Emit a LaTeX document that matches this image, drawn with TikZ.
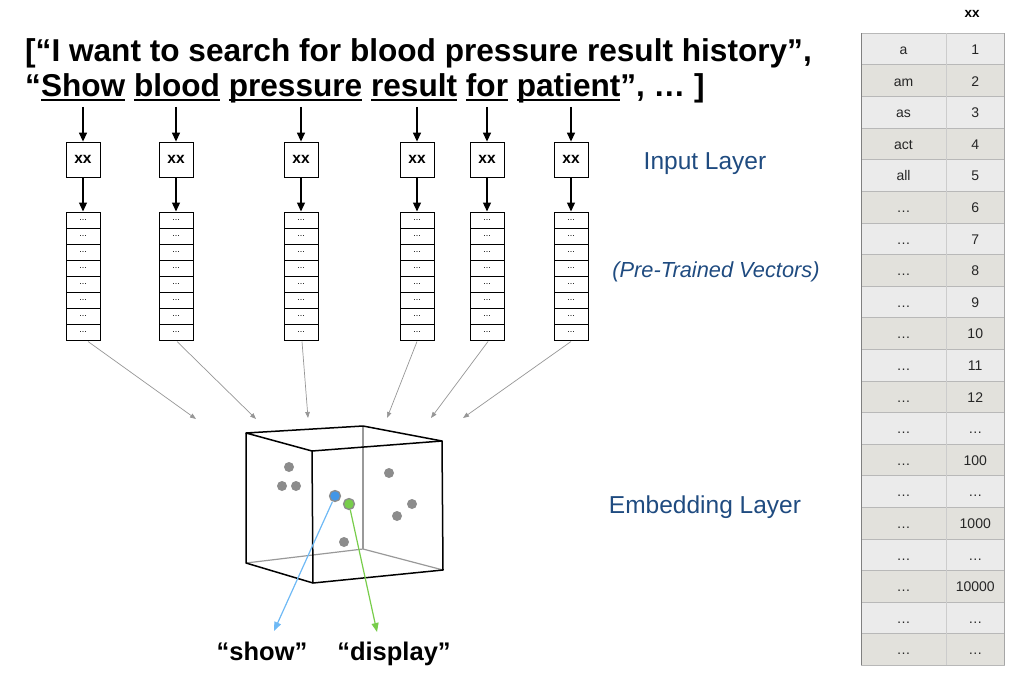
\documentclass[tikz,border=0pt]{standalone}
\usepackage{fontspec}
\setmainfont{Liberation Sans}
\usetikzlibrary{arrows.meta,calc}
\definecolor{labelblue}{RGB}{31,75,128}
\definecolor{rowa}{RGB}{235,235,235}
\definecolor{rowb}{RGB}{226,225,220}
\definecolor{feedgray}{RGB}{150,150,150}
\definecolor{dotgray}{RGB}{140,140,140}
\definecolor{showblue}{RGB}{110,185,245}
\definecolor{dotblue}{RGB}{66,150,230}
\definecolor{dispgreen}{RGB}{120,205,75}
\newcommand\ulword[1]{\setbox0=\hbox{#1}\rlap{\rule[-4.5pt]{\wd0}{2pt}}\box0}
\begin{document}
\begin{tikzpicture}[x=1pt,y=-1pt,
  wordarrow/.style={line width=1.3pt,-{Triangle[length=9pt,width=8pt]}},
  xxbox/.style={draw,line width=0.8pt,minimum width=34pt,minimum height=35pt,inner sep=0pt,font=\bfseries\fontsize{15.5}{18}\selectfont},
  cell/.style={draw,line width=1pt,minimum width=34pt,minimum height=16pt,inner sep=0pt,font=\fontsize{9}{9}\selectfont},
  feed/.style={draw=feedgray,line width=0.7pt,-{Triangle[length=6pt,width=4.5pt]}},
  cubeedge/.style={line width=1.5pt,black,line join=round},
  hiddenedge/.style={line width=1.2pt,black!40},
  pt/.style={circle,fill=dotgray,minimum size=10pt,inner sep=0pt},
  layerlabel/.style={text=labelblue,font=\fontsize{24.5}{28}\selectfont,anchor=base},
  tcell/.style={anchor=base,inner sep=0pt,font=\fontsize{14}{16}\selectfont},
  tline/.style={black!28,line width=0.8pt},
]
\useasboundingbox (0,0) rectangle (1024,698);

% title
\node[anchor=base west,inner sep=0pt,font=\bfseries\fontsize{31.6}{36}\selectfont] (t1) at (25,62)
  {[“I want to search for blood pressure result history”,};
\node[anchor=base west,inner sep=0pt,font=\bfseries\fontsize{31.6}{36}\selectfont] (t2) at (25,97)
  {“\ulword{Show}\ \ulword{blood}\ \ulword{pressure}\ \ulword{result}\ \ulword{for}\ \ulword{patient}”, … ]};

% columns
\foreach \cx [count=\i] in {83,176,301,417,487,571} {
  \coordinate (w\i) at (\cx,107);
  \node[xxbox] (x\i) at (\cx,159.5) {xx};
  \foreach \j in {1,...,8} {
    \node[cell] (s\i-\j) at (\cx,{220+16*(\j-1)}) {...};
  }
  \draw[wordarrow] (w\i) -- (x\i.north);
  \draw[wordarrow] (x\i.south) -- (s\i-1.north);
}

% feed arrows into embedding cube
\coordinate (f1) at (196,419);
\coordinate (f2) at (256,419);
\coordinate (f3) at (308,418);
\coordinate (f4) at (387,418);
\coordinate (f5) at (431,418);
\coordinate (f6) at (463,418);
\draw[feed] ($(s1-8.south)+(5,1)$) -- (f1);
\draw[feed] ($(s2-8.south)+(1,1)$) -- (f2);
\draw[feed] ($(s3-8.south)+(1,1)$) -- (f3);
\draw[feed] ($(s4-8.south)+(0,1)$) -- (f4);
\draw[feed] ($(s5-8.south)+(1,1)$) -- (f5);
\draw[feed] ($(s6-8.south)+(0,1)$) -- (f6);

% cube
\coordinate (A) at (246,433);
\coordinate (B) at (363,426);
\coordinate (C) at (363,549);
\coordinate (D) at (246,563);
\coordinate (E) at (312,451);
\coordinate (F) at (442,441);
\coordinate (G) at (443,570);
\coordinate (H) at (313,583);
\draw[hiddenedge] (B) -- (C);
\draw[hiddenedge] (D) -- (C) -- (G);
\draw[cubeedge] (E) -- (A) -- (B) -- (F);
\draw[cubeedge] (A) -- (D) -- (H);
\draw[cubeedge] (E) -- (F) -- (G) -- (H) -- cycle;

% points
\node[pt] (p1) at (289,467) {};
\node[pt] (p2) at (282,486) {};
\node[pt] (p3) at (296,486) {};
\node[pt] (p4) at (389,473) {};
\node[pt] (p5) at (412,504) {};
\node[pt] (p6) at (397,516) {};
\node[pt] (p7) at (344,542) {};
\node[circle,fill=dotblue,draw=dotgray,line width=1.3pt,minimum size=11pt,inner sep=0pt] (pshow) at (335,496) {};
\node[circle,fill=dispgreen,draw=dotgray,line width=1.3pt,minimum size=11pt,inner sep=0pt] (pdisp) at (349,504) {};

\coordinate (eshow) at (274,631);
\coordinate (edisp) at (377,632);
\draw[showblue,line width=1.2pt,-{Triangle[length=9pt,width=7pt]}] (pshow) -- (eshow);
\draw[dispgreen,line width=1.2pt,-{Triangle[length=9pt,width=7pt]}] (pdisp) -- (edisp);

\node[anchor=base,inner sep=0pt,font=\bfseries\fontsize{25.5}{30}\selectfont] (lshow) at (262,660) {“show”};
\node[anchor=base,inner sep=0pt,font=\bfseries\fontsize{25.5}{30}\selectfont] (ldisp) at (394,660) {“display”};

% layer labels
\node[layerlabel] (linput) at (705,169) {Input Layer};
\node[layerlabel,font=\itshape\fontsize{21.8}{25}\selectfont] (lpre) at (716,277) {(Pre-Trained Vectors)};
\node[layerlabel] (lemb) at (705,513) {Embedding Layer};

% vocabulary table
\node[font=\bfseries\fontsize{13.5}{16}\selectfont] (thead) at (972,14) {xx};
\foreach \w/\n [count=\r] in {a/1,am/2,as/3,act/4,all/5,…/6,…/7,…/8,…/9,…/10,…/11,…/12,…/…,…/100,…/…,…/1000,…/…,…/10000,…/…,…/…} {
  \pgfmathtruncatemacro{\odd}{mod(\r,2)}
  \ifnum\odd=1 \def\rc{rowa}\else\def\rc{rowb}\fi
  \fill[\rc] (861,{33.3+31.6*(\r-1)}) rectangle (1004.5,{33.3+31.6*\r});
  \node[tcell,text=black!85] (tw\r) at (903.5,{54.5+31.6*(\r-1)}) {\w};
  \node[tcell,text=black!85] (tn\r) at (975.25,{54.5+31.6*(\r-1)}) {\n};
}
\foreach \r in {0,...,20} {
  \draw[tline] (861,{33.3+31.6*\r}) -- (1004.5,{33.3+31.6*\r});
}
\draw[black!20,line width=0.8pt] (946,33.3) -- (946,665.3);
\draw[black!50,line width=1pt] (861,33.3) -- (861,665.3);
\draw[black!35,line width=0.8pt] (1004.5,33.3) -- (1004.5,665.3);
\end{tikzpicture}
\end{document}
